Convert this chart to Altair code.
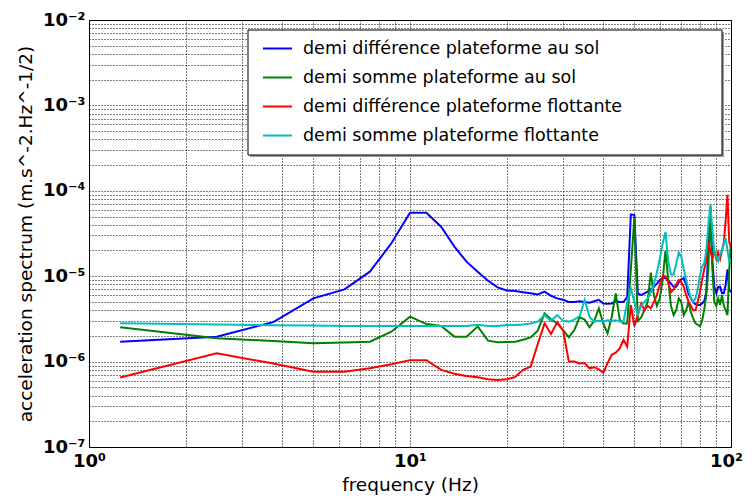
import altair as alt
import pandas as pd

# frequency grid of the spectra (1.25 Hz resolution, 1.25 .. 100 Hz)
freqs = [1.25 * i for i in range(1, 81)]

labels = [
    "demi différence plateforme au sol",
    "demi somme plateforme au sol",
    "demi différence plateforme flottante",
    "demi somme plateforme flottante",
]
colors = ["#0000ff", "#008000", "#ff0000", "#00bfbf"]

blue = [1.71e-6, 1.96e-6, 2.9e-6, 5.5e-6, 7.0e-6, 1.13e-5, 2.43e-5, 5.54e-5, 5.54e-5, 3.8e-5,
        2.22e-5, 1.48e-5, 1.13e-5, 8.85e-6, 7.4e-6, 6.8e-6, 6.7e-6, 6.5e-6, 6.3e-6, 6.1e-6,
        6.6e-6, 5.9e-6, 5.5e-6, 5.3e-6, 5.0e-6, 5.0e-6, 5.1e-6, 5.0e-6, 4.9e-6, 5.1e-6,
        5.3e-6, 4.8e-6, 4.75e-6, 4.8e-6, 5.1e-6, 5.0e-6, 5.0e-6, 5.7e-6, 5.3e-5, 5.2e-5,
        6.3e-6, 6.0e-6, 6.3e-6, 6.6e-6, 7.0e-6, 7.5e-6, 8.2e-6, 9.0e-6, 9.5e-6, 9.5e-6,
        9.0e-6, 8.2e-6, 7.5e-6, 7.5e-6, 8.5e-6, 9.2e-6, 9.5e-6, 8.0e-6, 6.2e-6, 5.5e-6,
        4.9e-6, 4.7e-6, 4.6e-6, 4.6e-6, 4.8e-6, 5.1e-6, 6.5e-6, 2.0e-5, 6.5e-5, 1.5e-5,
        7.5e-6, 6.3e-6, 7.5e-6, 7.5e-6, 6.3e-6, 6.3e-6, 8.0e-6, 1.2e-5, 7.0e-6, 6.5e-6]

green = [2.52e-6, 1.88e-6, 1.74e-6, 1.64e-6, 1.67e-6, 1.71e-6, 2.24e-6, 3.36e-6, 2.75e-6, 2.61e-6,
         1.96e-6, 1.96e-6, 2.58e-6, 1.76e-6, 1.69e-6, 1.70e-6, 1.71e-6, 1.80e-6, 1.92e-6, 2.3e-6,
         3.67e-6, 3.13e-6, 2.8e-6, 2.34e-6, 1.92e-6, 2.34e-6, 3.3e-6, 3.1e-6, 2.52e-6, 3.0e-6,
         4.2e-6, 2.8e-6, 2.14e-6, 3.33e-6, 6.3e-6, 3.1e-6, 2.8e-6, 2.8e-6, 1.2e-5, 4.8e-5,
         3.0e-6, 3.3e-6, 4.0e-6, 5.0e-6, 1.1e-5, 6.0e-6, 4.5e-6, 5.5e-6, 9.0e-6, 2.0e-5,
         9.0e-6, 4.5e-6, 3.5e-6, 4.0e-6, 5.5e-6, 5.0e-6, 3.5e-6, 4.0e-6, 5.0e-6, 3.8e-6,
         3.2e-6, 2.8e-6, 2.7e-6, 2.6e-6, 3.0e-6, 4.0e-6, 6.0e-6, 1.2e-5, 6.5e-5, 1.2e-5,
         5.0e-6, 4.5e-6, 5.5e-6, 4.6e-6, 6.0e-6, 4.5e-6, 4.0e-6, 3.5e-6, 1.2e-5, 2.5e-5]

red = [6.5e-7, 1.25e-6, 9.5e-7, 7.6e-7, 7.6e-7, 8.35e-7, 9.3e-7, 1.04e-6, 1.04e-6, 8.0e-7,
       7.2e-7, 6.8e-7, 6.55e-7, 6.2e-7, 6.1e-7, 6.2e-7, 6.6e-7, 8.0e-7, 8.7e-7, 1.6e-6,
       2.8e-6, 2.1e-6, 2.9e-6, 2.3e-6, 1.0e-6, 1.0e-6, 9.5e-7, 9.6e-7, 8.35e-7, 8.6e-7,
       8.1e-7, 7.4e-7, 9.6e-7, 1.2e-6, 1.27e-6, 1.43e-6, 1.8e-6, 1.5e-6, 4.6e-6, 2.6e-6,
       3.5e-6, 4.8e-6, 4.0e-6, 4.5e-6, 4.2e-6, 5.0e-6, 6.0e-6, 8.0e-6, 1.0e-5, 1.0e-5,
       8.5e-6, 6.5e-6, 7.0e-6, 8.0e-6, 9.0e-6, 8.5e-6, 7.5e-6, 6.0e-6, 5.0e-6, 4.5e-6,
       4.0e-6, 4.0e-6, 5.0e-6, 6.5e-6, 9.0e-6, 1.2e-5, 1.5e-5, 2.5e-5, 2.0e-5, 1.6e-5,
       2.0e-5, 1.6e-5, 1.9e-5, 1.6e-5, 2.0e-5, 2.5e-5, 4.5e-5, 9.0e-5, 2.5e-5, 2.2e-5]

cyan = [2.81e-6, 2.72e-6, 2.66e-6, 2.64e-6, 2.62e-6, 2.62e-6, 2.62e-6, 2.62e-6, 2.62e-6, 2.62e-6,
        2.62e-6, 2.62e-6, 2.70e-6, 2.62e-6, 2.62e-6, 2.69e-6, 2.69e-6, 2.72e-6, 2.80e-6, 2.94e-6,
        3.5e-6, 3.0e-6, 3.5e-6, 3.0e-6, 2.94e-6, 3.1e-6, 3.4e-6, 5.26e-6, 3.33e-6, 2.94e-6,
        3.0e-6, 2.94e-6, 3.05e-6, 3.0e-6, 3.05e-6, 2.94e-6, 2.94e-6, 5.0e-6, 7.2e-6, 5.0e-6,
        3.6e-6, 4.5e-6, 5.0e-6, 5.5e-6, 6.5e-6, 8.0e-6, 1.1e-5, 1.6e-5, 2.4e-5, 3.3e-5,
        1.5e-5, 1.05e-5, 1.05e-5, 1.4e-5, 1.9e-5, 1.7e-5, 1.2e-5, 9.0e-6, 7.0e-6, 5.5e-6,
        5.0e-6, 5.5e-6, 7.0e-6, 1.0e-5, 1.3e-5, 1.4e-5, 2.0e-5, 4.0e-5, 6.8e-5, 3.5e-5,
        1.9e-5, 1.7e-5, 1.5e-5, 1.8e-5, 2.0e-5, 2.4e-5, 2.8e-5, 2.0e-5, 1.5e-5, 1.6e-5]

x_decades = [0, 1, 2]
y_decades = [-7, -6, -5, -4, -3, -2]

rows = []
for name, vals in zip(labels, [blue, green, red, cyan]):
    for f, v in zip(freqs, vals):
        rows.append({"freq": f, "value": v, "series": name})
df = pd.DataFrame(rows)

sup = str.maketrans("0123456789-", "⁰¹²³⁴⁵⁶⁷⁸⁹⁻")


def lab_expr(exps):
    parts = []
    for e in exps:
        parts.append(f"abs(datum.value/{10.0 ** e!r} - 1) < 1e-6 ? '10{str(e).translate(sup)}'")
    return " : ".join(parts) + " : ''"


x_vals = [float(f"{k}e{e}") for e in x_decades[:-1] for k in range(1, 10)] + [100.0]
y_vals = [float(f"{k}e{e}") for e in y_decades[:-1] for k in range(1, 10)] + [1e-2]

grid_kw = dict(grid=True, gridColor="black", gridDash=[1, 2], gridOpacity=1, gridWidth=1,
               ticks=False, domain=False, labelOverlap=False,
               labelFontWeight="bold", labelFontSize=18, labelColor="black",
               titleFontSize=18.5, titleFontWeight="normal", titleColor="black")

lines = alt.Chart(df).mark_line(strokeWidth=2, clip=True).encode(
    x=alt.X("freq:Q",
            scale=alt.Scale(type="log", domain=[1, 100], nice=False),
            axis=alt.Axis(values=x_vals, labelExpr=lab_expr(x_decades), labelFlush=False,
                          labelOffset={"condition": {"test": "datum.value >= 99", "value": -5},
                                       "value": 0},
                          labelPadding=5, title="frequency (Hz)", titleX=321, titleY=43.5,
                          titleBaseline="alphabetic", **grid_kw)),
    y=alt.Y("value:Q",
            scale=alt.Scale(type="log", domain=[1e-7, 1e-2], nice=False),
            axis=alt.Axis(values=y_vals, labelExpr=lab_expr(y_decades), labelPadding=4,
                          title="acceleration spectrum (m.s^-2.Hz^-1/2)", titleX=-64,
                          titleY=213.5, titleAngle=270, titleBaseline="middle", **grid_kw)),
    color=alt.Color("series:N",
                    scale=alt.Scale(domain=labels, range=colors),
                    legend=alt.Legend(title=None, orient="none", legendX=173, legendY=13,
                                      symbolType="stroke", symbolSize=841, symbolStrokeWidth=2,
                                      labelFontSize=17.5, labelColor="black", labelOffset=10,
                                      rowPadding=5, padding=0, labelLimit=600)),
)

box_df = pd.DataFrame({"k": [0]})
shadow = alt.Chart(box_df).mark_rect(fill="#9a9a9a").encode(
    x=alt.value(161), x2=alt.value(635), y=alt.value(12), y2=alt.value(137))
box = alt.Chart(box_df).mark_rect(fill="white", stroke="black", strokeWidth=1).encode(
    x=alt.value(159), x2=alt.value(633), y=alt.value(10), y2=alt.value(135))

chart = alt.layer(shadow, box, lines).properties(
    width=642, height=427,
    padding={"left": 81, "top": 12, "right": 13, "bottom": 48},
    autosize=alt.AutoSizeParams(type="none"),
).configure(font="DejaVu Sans").configure_view(stroke="black", strokeWidth=1)

chart.save("out.html", embed_options={"renderer": "svg", "actions": False})
